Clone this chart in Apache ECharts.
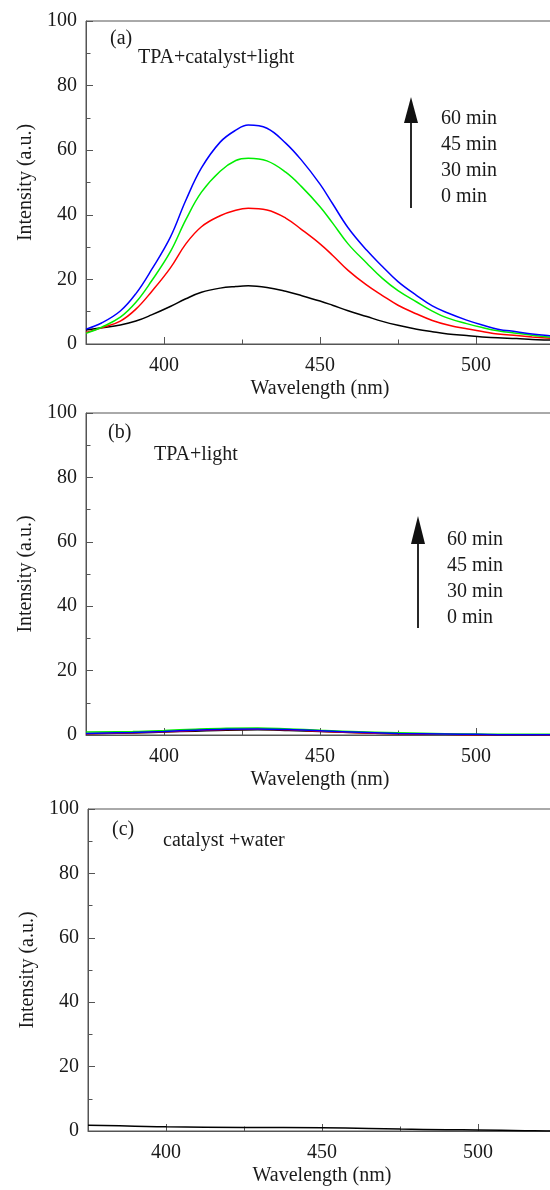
<!DOCTYPE html>
<html>
<head>
<meta charset="utf-8">
<script src="https://cdn.jsdelivr.net/npm/echarts@6/dist/echarts.min.js"></script>
<style>
html, body { margin: 0; padding: 0; background: #fff; overflow: hidden; }
#chart { width: 560px; height: 1190px; }
</style>
</head>
<body>
<div id="chart"></div>
<script>
// panel (a): TPA + catalyst + light
const wavelengthA = [375, 380, 386, 391, 396, 402, 407, 412, 418, 423, 427, 433, 439, 444, 450, 454, 459, 465, 470, 475, 481, 486, 491, 497, 502, 507, 513, 518, 524, 530];
const min0A  = [4.3, 5.0, 5.9, 7.1, 9.0, 11.6, 14.0, 16.0, 17.3, 17.8, 18.0, 17.5, 16.3, 15.0, 13.3, 12.0, 10.3, 8.5, 7.0, 5.8, 4.6, 3.8, 3.1, 2.6, 2.2, 1.9, 1.7, 1.4, 1.2, 1.0];
const min30A = [3.6, 5.0, 7.1, 10.8, 16.2, 23.5, 31.0, 36.3, 39.7, 41.4, 42.0, 41.5, 39.0, 35.5, 31.0, 27.5, 22.8, 18.2, 15.0, 12.0, 9.3, 7.3, 5.9, 4.7, 3.9, 3.1, 2.6, 2.2, 1.8, 1.5];
const min45A = [3.3, 5.2, 8.3, 12.9, 19.5, 28.5, 38.5, 47.0, 53.5, 56.8, 57.5, 56.7, 53.2, 48.8, 42.5, 37.5, 31.0, 25.0, 20.3, 16.5, 13.0, 10.2, 8.0, 6.3, 5.1, 4.1, 3.3, 2.7, 2.1, 1.7];
const min60A = [4.6, 6.5, 10.2, 15.6, 23.0, 33.0, 44.5, 54.5, 62.5, 66.2, 67.8, 66.8, 62.2, 57.0, 49.5, 43.5, 36.0, 29.0, 24.0, 19.3, 15.0, 11.8, 9.6, 7.4, 5.9, 4.6, 3.8, 3.1, 2.5, 2.0];

// panel (b): TPA + light
const wavelengthB = [375, 390, 400, 410, 420, 430, 440, 450, 460, 475, 490, 500, 510, 525, 530];
const min0B  = [0.4, 0.6, 0.9, 1.2, 1.5, 1.6, 1.4, 1.1, 0.8, 0.4, 0.2, 0.1, 0.0, 0.0, 0.0];
const min30B = [0.4, 0.7, 1.0, 1.4, 1.7, 1.8, 1.6, 1.2, 0.8, 0.4, 0.2, 0.1, 0.1, 0.0, 0.0];
const min45B = [0.9, 1.1, 1.4, 1.8, 2.1, 2.2, 1.9, 1.5, 1.1, 0.7, 0.4, 0.3, 0.2, 0.2, 0.2];
const min60B = [0.5, 0.8, 1.1, 1.5, 1.8, 1.9, 1.7, 1.3, 0.9, 0.5, 0.3, 0.2, 0.1, 0.1, 0.1];

// panel (c): catalyst + water
const wavelengthC = [375, 390, 400, 425, 450, 465, 475, 490, 500, 515, 525, 530];
const min0C = [1.8, 1.5, 1.3, 1.1, 1.0, 0.8, 0.6, 0.4, 0.3, 0.1, 0.0, 0.0];

const xMajorTicks = [400, 450, 500];
const xMinorTicks = [425, 475];
const timeLabels = ['60 min', '45 min', '30 min', '0 min'];
const lineColors = ['#000000', '#ff0000', '#00ee00', '#0000ff'];

const FONT = '"Liberation Serif", "Times New Roman", serif';
const TEXT = '#1a1a1a';
const AXIS = '#555';

const panels = [
    { grid: { left: 86, top: 21, width: 468, height: 323 }, wl: wavelengthA, lines: [min0A, min30A, min45A, min60A] },
    { grid: { left: 86, top: 413, width: 468, height: 322 }, wl: wavelengthB, lines: [min0B, min30B, min45B, min60B] },
    { grid: { left: 88, top: 809, width: 468, height: 322 }, wl: wavelengthC, lines: [min0C] }
];

const grids = [], xAxes = [], yAxes = [], series = [];

panels.forEach((p, i) => {
    grids.push(Object.assign({ show: true, borderColor: AXIS, borderWidth: 1 }, p.grid));
    xAxes.push({
        gridIndex: i, type: 'value', min: 375, max: 525, position: 'bottom',
        axisLine: { lineStyle: { color: AXIS, width: 1 } },
        axisTick: { show: true, inside: true, length: 7, customValues: xMajorTicks, lineStyle: { color: AXIS } },
        axisLabel: { customValues: xMajorTicks, margin: 12, fontSize: 20, fontFamily: FONT, color: TEXT },
        splitLine: { show: false },
        name: 'Wavelength (nm)', nameLocation: 'middle', nameGap: 35,
        nameTextStyle: { fontSize: 20, fontFamily: FONT, color: TEXT }
    });
    xAxes.push({
        gridIndex: i, type: 'value', min: 375, max: 525, position: 'bottom',
        axisLine: { show: false },
        axisTick: { show: true, inside: true, length: 4.5, customValues: xMinorTicks, lineStyle: { color: AXIS } },
        axisLabel: { show: false },
        splitLine: { show: false }
    });
    yAxes.push({
        gridIndex: i, type: 'value', min: 0, max: 100, interval: 20,
        axisLine: { show: true, lineStyle: { color: AXIS, width: 1 } },
        axisTick: { show: true, inside: true, length: 7, lineStyle: { color: AXIS } },
        minorTick: { show: true, splitNumber: 2, length: 4.5, lineStyle: { color: AXIS } },
        axisLabel: { margin: 9, fontSize: 20, fontFamily: FONT, color: TEXT },
        splitLine: { show: false },
        name: 'Intensity (a.u.)', nameLocation: 'middle', nameGap: 50, nameRotate: 90,
        nameTextStyle: { fontSize: 20, fontFamily: FONT, color: TEXT }
    });
    p.lines.forEach((vals, k) => {
        series.push({
            type: 'line',
            xAxisIndex: i * 2, yAxisIndex: i,
            data: p.wl.map((w, j) => [w, vals[j]]),
            symbol: 'none', smooth: 0.4,
            lineStyle: { color: lineColors[k], width: 1.5 },
            itemStyle: { color: lineColors[k] },
            z: 2 + k
        });
    });
});

const txt = (x, y, text) => ({
    type: 'text', x: x, y: y,
    style: { text: text, font: '20px ' + FONT, fill: TEXT, verticalAlign: 'middle' }
});
const arrow = (x, tip, base, tail) => [
    { type: 'line', shape: { x1: x, y1: base, x2: x, y2: tail }, style: { stroke: '#111', lineWidth: 1.8 } },
    { type: 'polygon', shape: { points: [[x, tip], [x - 7, base], [x + 7, base]] }, style: { fill: '#111' } }
];

const graphic = [
    txt(110, 39, '(a)'), txt(138, 58, 'TPA+catalyst+light'),
    ...arrow(411, 97, 123, 208),
    ...timeLabels.map((t, k) => txt(441, 119 + k * 25.8, t)),
    txt(108, 433, '(b)'), txt(154, 455, 'TPA+light'),
    ...arrow(418, 516, 544, 628),
    ...timeLabels.map((t, k) => txt(447, 540 + k * 25.8, t)),
    txt(112, 830, '(c)'), txt(163, 841, 'catalyst +water')
];

const chart = echarts.init(document.getElementById('chart'));
chart.setOption({
    backgroundColor: '#fff',
    animation: false,
    grid: grids,
    xAxis: xAxes,
    yAxis: yAxes,
    series: series,
    graphic: graphic
});
</script>
</body>
</html>
